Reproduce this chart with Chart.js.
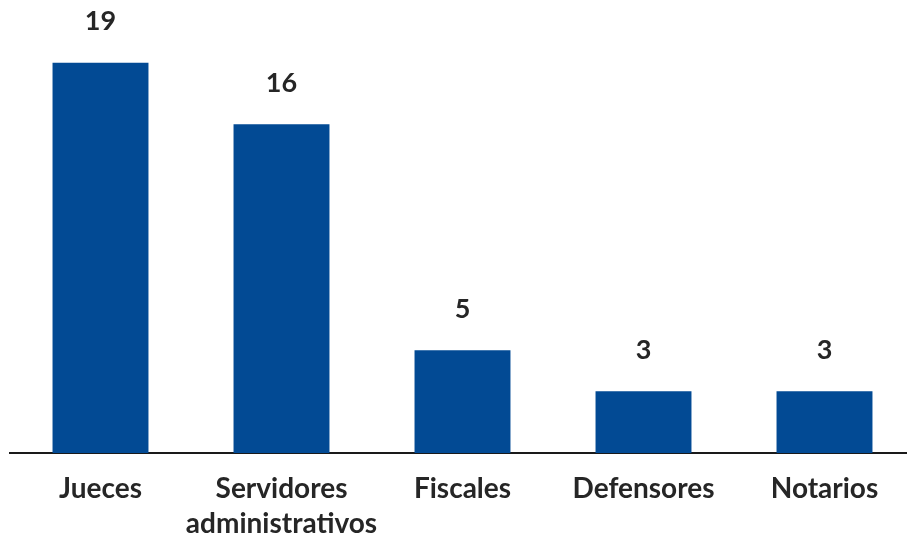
<!DOCTYPE html>
<html>
<head>
<meta charset="utf-8">
<script src="https://cdn.jsdelivr.net/npm/chart.js@4"></script>
<style>
  html, body { margin: 0; padding: 0; background: #ffffff; overflow: hidden; }
  #wrap { position: relative; width: 916px; height: 541px; }
</style>
</head>
<body>
<div id="wrap"><canvas id="c" width="916" height="541"></canvas></div>
<script>
const categories = ["Jueces", ["Servidores", "administrativos"], "Fiscales", "Defensores", "Notarios"];
const values = [19, 16, 5, 3, 3];
const barColor = "#024a94";
const textColor = "#262626";
const fontFamily = "Lato, 'Open Sans', sans-serif";

const valueLabels = {
  id: "valueLabels",
  afterDatasetsDraw(chart) {
    const ctx = chart.ctx;
    const meta = chart.getDatasetMeta(0);
    ctx.save();
    ctx.font = "bold 27px " + fontFamily;
    ctx.fillStyle = textColor;
    ctx.textAlign = "center";
    ctx.textBaseline = "middle";
    meta.data.forEach((bar, i) => {
      ctx.fillText(String(values[i]), bar.x, bar.y - 41);
    });
    ctx.restore();
  }
};

new Chart(document.getElementById("c"), {
  type: "bar",
  data: {
    labels: categories,
    datasets: [{
      data: values,
      backgroundColor: barColor,
      borderWidth: 0,
      barPercentage: 0.53,
      categoryPercentage: 1.0
    }]
  },
  options: {
    responsive: false,
    animation: false,
    layout: { padding: { top: 1, left: 10, right: 1, bottom: 0 } },
    plugins: { legend: { display: false }, tooltip: { enabled: false } },
    scales: {
      x: {
        grid: { display: false, drawTicks: false },
        border: { display: true, color: "#1a1a1a", width: 2 },
        ticks: {
          color: textColor,
          padding: 18,
          maxRotation: 0,
          autoSkip: false,
          font: { family: fontFamily, size: 28, weight: "bold", lineHeight: 1.25 }
        },
        afterFit(scale) { scale.height = 88; }
      },
      y: {
        display: false,
        min: 0,
        max: 22
      }
    }
  },
  plugins: [valueLabels]
});
</script>
</body>
</html>
